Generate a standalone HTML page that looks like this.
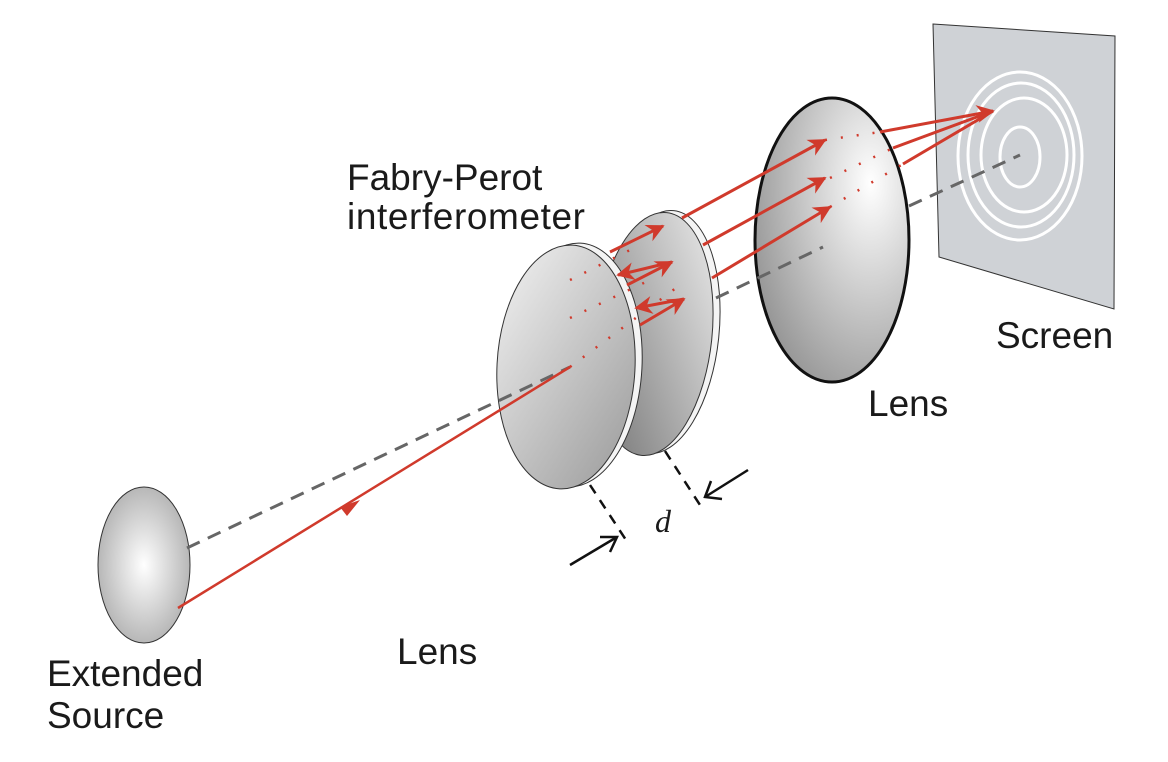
<!DOCTYPE html>
<html><head><meta charset="utf-8"><style>
body{margin:0;background:#fff}
svg{display:block}
text{font-family:"Liberation Sans",sans-serif;font-size:37px;fill:#1a1a1a}
</style></head><body>
<svg width="1168" height="762" viewBox="0 0 1168 762">
<defs>
<radialGradient id="g1" cx="0.5" cy="0.5" r="0.6"><stop offset="0" stop-color="#fff"/><stop offset="1" stop-color="#a9a9a9"/></radialGradient>
<radialGradient id="g2" cx="0.75" cy="0.3" r="0.9"><stop offset="0" stop-color="#fff"/><stop offset="1" stop-color="#8c8c8c"/></radialGradient>
<linearGradient id="g3" x1="0" y1="0" x2="1" y2="1"><stop offset="0" stop-color="#f2f2f2"/><stop offset="1" stop-color="#9a9a9a"/></linearGradient>
<linearGradient id="g4" x1="1" y1="0" x2="0" y2="1"><stop offset="0" stop-color="#eee"/><stop offset="1" stop-color="#6f6f6f"/></linearGradient>
<marker id="ab" viewBox="0 0 10 10" refX="9" refY="5" markerWidth="26" markerHeight="18" orient="auto" markerUnits="userSpaceOnUse"><path d="M0,0L10,5L0,10L3,5z" fill="#d03a2c"/></marker>
</defs>
<polygon points="933,24 1115,36 1114,309 939,257" fill="#cfd2d6" stroke="#333" stroke-width="1"/>
<g fill="none" stroke="#fff" stroke-width="3">
<ellipse cx="1020" cy="157" rx="20" ry="30"/>
<ellipse cx="1024" cy="155" rx="43" ry="57"/>
<ellipse cx="1021" cy="155" rx="53" ry="72"/>
<ellipse cx="1020" cy="156" rx="62" ry="84"/>
</g>
<ellipse cx="144" cy="565" rx="46" ry="78" fill="url(#g1)" stroke="#333" stroke-width="1"/>
<ellipse cx="661" cy="332" rx="58" ry="122" transform="rotate(6 661 332)" fill="#f4f4f4" stroke="#333"/>
<ellipse cx="654" cy="334" rx="58" ry="122" transform="rotate(6 654 334)" fill="url(#g4)" stroke="#333"/>
<ellipse cx="574" cy="365" rx="68" ry="122" transform="rotate(3 574 365)" fill="#f4f4f4" stroke="#333"/>
<ellipse cx="566" cy="367" rx="69" ry="122" transform="rotate(3 566 367)" fill="url(#g3)" stroke="#333"/>
<line x1="187" y1="548" x2="570" y2="367" stroke="#666" stroke-width="3" stroke-dasharray="14,9"/>
<line x1="178" y1="608" x2="570" y2="367" stroke="#d03a2c" stroke-width="2.5"/>
<path d="M340,507 L360,500 L347,516 z" fill="#d03a2c"/>
<ellipse cx="832" cy="240" rx="77" ry="142" fill="url(#g2)" stroke="#111" stroke-width="3"/>
<line x1="716" y1="298" x2="823" y2="247" stroke="#666" stroke-width="3" stroke-dasharray="14,9"/>
<line x1="909" y1="206" x2="1020" y2="155" stroke="#666" stroke-width="3" stroke-dasharray="14,9"/>
<g stroke="#d03a2c" stroke-width="3" fill="none">
<line x1="610" y1="252" x2="663" y2="226" marker-end="url(#ab)"/>
<line x1="627" y1="285" x2="672" y2="262" marker-end="url(#ab)"/>
<line x1="672" y1="262" x2="618" y2="275" marker-end="url(#ab)"/>
<line x1="640" y1="325" x2="684" y2="299" marker-end="url(#ab)"/>
<line x1="684" y1="299" x2="636" y2="308" marker-end="url(#ab)"/>
<line x1="682" y1="218" x2="825" y2="140" marker-end="url(#ab)"/>
<line x1="703" y1="245" x2="825" y2="178" marker-end="url(#ab)"/>
<line x1="712" y1="278" x2="830" y2="207" marker-end="url(#ab)"/>
<line x1="880" y1="132" x2="993" y2="111" marker-end="url(#ab)"/>
<line x1="893" y1="148" x2="993" y2="111"/>
<line x1="903" y1="164" x2="993" y2="111"/>
</g>
<g stroke="#d03a2c" stroke-width="2.5" stroke-dasharray="2,14">
<line x1="570" y1="367" x2="680" y2="285"/>
<line x1="570" y1="318" x2="650" y2="280"/>
<line x1="570" y1="280" x2="640" y2="245"/>
<line x1="825" y1="140" x2="880" y2="132"/>
<line x1="830" y1="178" x2="893" y2="148"/>
<line x1="830" y1="207" x2="903" y2="164"/>
</g>
<g stroke="#111" stroke-width="2.5" fill="none">
<line x1="590" y1="485" x2="626" y2="540" stroke-dasharray="10,8"/>
<line x1="665" y1="451" x2="700" y2="505" stroke-dasharray="10,8"/>
<line x1="570" y1="565" x2="617" y2="537"/>
<polyline points="600,537 617,537 610,552"/>
<line x1="748" y1="470" x2="705" y2="497"/>
<polyline points="711,481 705,497 722,499"/>
</g>
<text x="655" y="532" style="font-family:'Liberation Serif',serif;font-style:italic;font-size:32px">d</text>
<text x="347" y="190">Fabry-Perot</text>
<text x="347" y="229" textLength="238">interferometer</text>
<text x="996" y="348">Screen</text>
<text x="868" y="416">Lens</text>
<text x="397" y="664">Lens</text>
<text x="47" y="686">Extended</text>
<text x="47" y="728">Source</text>
</svg>
</body></html>
